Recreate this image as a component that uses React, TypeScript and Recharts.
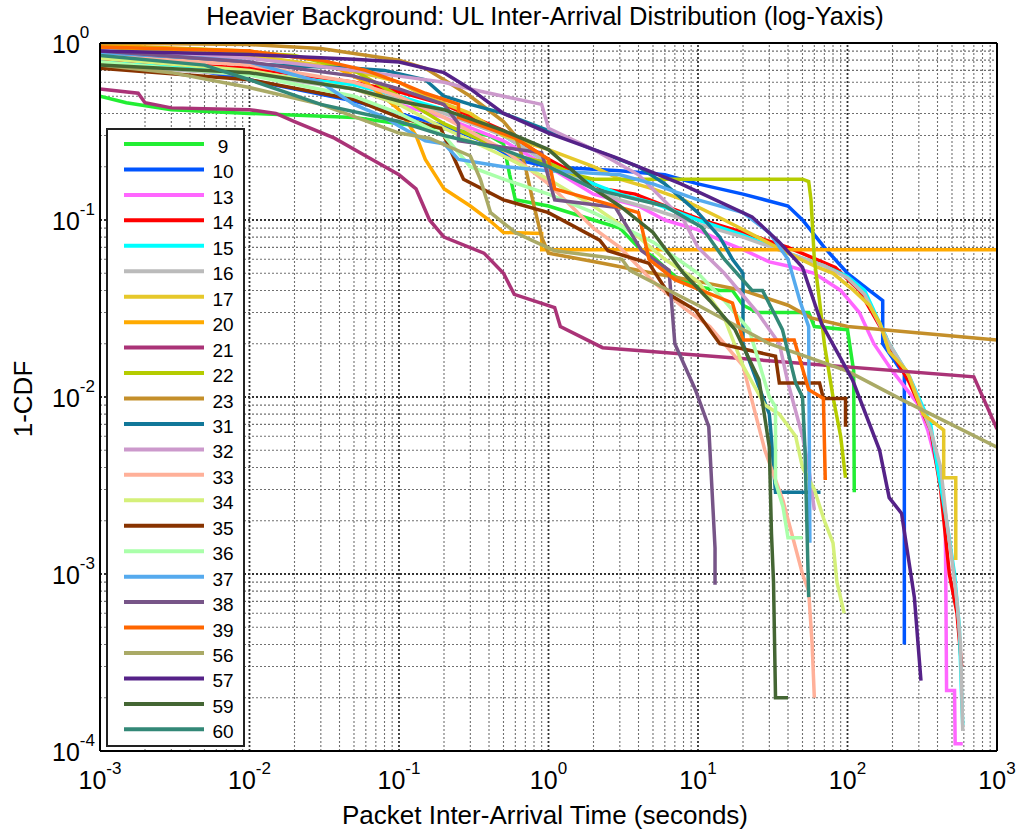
import { LineChart, Line, XAxis, YAxis, ReferenceLine } from "recharts";

// 1-CDF curves, [seconds, 1-CDF]
const s9 = [[0.001,0.5],[0.0015,0.46],[0.003,0.42],[0.01,0.4],[0.05,0.38],[0.1,0.35],[0.2,0.33],[0.4,0.3],[0.5,0.27],[0.55,0.18],[0.6,0.13],[1,0.12],[2,0.1],[3,0.09],[4,0.07],[5,0.062],[7,0.048],[10,0.042],[14,0.04],[17,0.04],[20,0.033],[25,0.03],[55,0.03],[60,0.025],[100,0.024],[110,0.014],[111,0.0029]];
const s10 = [[0.001,0.88],[0.01,0.62],[0.05,0.47],[0.1,0.4],[0.2,0.34],[0.4,0.27],[0.6,0.22],[1,0.2],[3,0.19],[6,0.18],[10,0.16],[20,0.14],[40,0.12],[50,0.1],[70,0.07],[100,0.05],[140,0.04],[172,0.035],[172,0.02],[230,0.014],[240,0.014],[240,0.0004]];
const s13 = [[0.001,0.85],[0.01,0.7],[0.05,0.55],[0.1,0.45],[0.2,0.38],[0.5,0.28],[1,0.2],[2,0.14],[4,0.12],[6,0.1],[10,0.088],[15,0.075],[20,0.068],[30,0.058],[40,0.055],[60,0.05],[90,0.04],[120,0.03],[150,0.02],[200,0.014],[300,0.009],[344,0.0065],[400,0.004],[450,0.0022],[455,0.0008],[460,0.00022],[520,0.00022],[525,0.00011],[590,0.00011]];
const s14 = [[0.001,0.8],[0.01,0.72],[0.05,0.6],[0.1,0.53],[0.2,0.45],[0.5,0.32],[1,0.22],[2.3,0.15],[3.8,0.14],[6,0.12],[10.6,0.1],[20,0.085],[40,0.07],[83,0.054],[120,0.04],[180,0.022],[190,0.019],[260,0.012],[360,0.0065],[420,0.003],[480,0.001],[540,0.0006],[580,0.0003]];
const s15 = [[0.001,0.78],[0.01,0.68],[0.05,0.58],[0.1,0.5],[0.2,0.42],[0.5,0.3],[1,0.21],[2,0.16],[3,0.14],[5,0.125],[10,0.1],[20,0.082],[40,0.065],[70,0.055],[100,0.048],[130,0.04],[190,0.02],[260,0.013],[360,0.007],[400,0.004],[460,0.002],[520,0.001],[560,0.0005],[580,0.0002],[590,0.00014]];
const s16 = [[0.001,0.75],[0.01,0.66],[0.05,0.55],[0.1,0.48],[0.2,0.4],[0.5,0.3],[1,0.21],[2,0.15],[3,0.13],[5,0.115],[10,0.095],[20,0.08],[40,0.065],[70,0.055],[100,0.047],[130,0.038],[190,0.02],[260,0.013],[360,0.0065],[420,0.004],[460,0.002],[500,0.0012],[540,0.0007],[570,0.0004],[590,0.00013]];
const s17 = [[0.001,0.95],[0.01,0.85],[0.03,0.75],[0.07,0.65],[0.1,0.6],[0.15,0.5],[0.3,0.4],[0.5,0.3],[1,0.25],[2,0.2],[3,0.17],[5,0.15],[8,0.13],[15,0.1],[25,0.08],[40,0.065],[60,0.055],[80,0.05],[110,0.04],[140,0.033],[165,0.026],[190,0.018],[250,0.014],[320,0.008],[440,0.0065],[440,0.0035],[530,0.0035],[530,0.0012]];
const s20 = [[0.001,0.97],[0.01,0.9],[0.03,0.8],[0.06,0.6],[0.1,0.42],[0.13,0.3],[0.15,0.22],[0.2,0.15],[0.3,0.12],[0.4,0.1],[0.5,0.085],[0.9,0.084],[0.9,0.068],[1000,0.068]];
const s21 = [[0.001,0.55],[0.0018,0.52],[0.002,0.46],[0.003,0.43],[0.01,0.42],[0.015,0.4],[0.02,0.36],[0.037,0.29],[0.06,0.23],[0.1,0.18],[0.13,0.15],[0.16,0.1],[0.2,0.08],[0.37,0.065],[0.5,0.05],[0.59,0.038],[1.1,0.032],[1.2,0.025],[2.3,0.019],[700,0.013],[1000,0.0066]];
const s22 = [[0.001,0.95],[0.005,0.92],[0.02,0.85],[0.05,0.7],[0.1,0.5],[0.2,0.35],[0.4,0.27],[0.6,0.23],[1,0.21],[1.5,0.18],[2,0.17],[50,0.17],[55,0.165],[57,0.13],[60,0.06],[65,0.035],[70,0.02],[80,0.01],[90,0.006],[97,0.0035]];
const s23 = [[0.001,1.0],[0.01,0.98],[0.03,0.93],[0.1,0.8],[0.15,0.72],[0.2,0.62],[0.3,0.5],[0.5,0.36],[0.6,0.3],[0.7,0.2],[0.8,0.12],[0.9,0.08],[1,0.065],[2.3,0.057],[5,0.05],[10,0.045],[20,0.04],[40,0.033],[57,0.028],[100,0.025],[1000,0.021]];
const s31 = [[0.001,0.85],[0.005,0.8],[0.01,0.76],[0.05,0.72],[0.08,0.7],[0.15,0.62],[0.2,0.5],[0.3,0.45],[0.5,0.4],[1,0.32],[2,0.25],[4,0.2],[6,0.16],[10,0.11],[14,0.08],[17,0.06],[20,0.05],[20,0.02],[25,0.012],[30,0.008],[31,0.0058],[33,0.0029],[66,0.0029]];
const s32 = [[0.001,0.9],[0.01,0.82],[0.05,0.7],[0.1,0.65],[0.2,0.6],[0.3,0.55],[0.5,0.5],[0.9,0.45],[1,0.33],[2,0.25],[4,0.18],[8,0.1],[10,0.07],[15,0.05],[25,0.03],[35,0.02],[40,0.012],[50,0.006],[55,0.004],[60,0.0023]];
const s33 = [[0.001,0.85],[0.01,0.75],[0.05,0.6],[0.1,0.5],[0.2,0.38],[0.5,0.25],[1,0.16],[2,0.09],[3,0.07],[5,0.045],[8,0.032],[12,0.025],[15,0.02],[20,0.015],[28,0.005],[37,0.0026],[50,0.001],[55,0.0008],[58,0.0004],[60,0.0002]];
const s34 = [[0.001,0.82],[0.01,0.7],[0.05,0.55],[0.1,0.45],[0.2,0.33],[0.5,0.23],[1,0.17],[2,0.12],[4,0.08],[6,0.06],[10,0.045],[15,0.028],[20,0.015],[28,0.009],[35,0.008],[45,0.006],[50,0.004],[60,0.003],[70,0.002],[80,0.0015],[85,0.0009],[95,0.0006]];
const s35 = [[0.001,0.72],[0.01,0.62],[0.05,0.48],[0.1,0.38],[0.19,0.33],[0.27,0.17],[0.5,0.13],[1,0.11],[2.2,0.077],[2.5,0.067],[4.7,0.057],[6.4,0.038],[9.6,0.031],[14,0.02],[33,0.017],[35,0.012],[65,0.012],[69,0.0098],[97,0.0098],[97,0.0068]];
const s36 = [[0.001,0.78],[0.01,0.66],[0.05,0.5],[0.1,0.4],[0.2,0.3],[0.3,0.2],[0.5,0.17],[1,0.14],[2,0.11],[5,0.075],[10,0.05],[15,0.035],[22,0.024],[30,0.01],[33,0.0088],[33,0.0033],[37,0.0024],[40,0.0016],[50,0.0016]];
const s37 = [[0.001,0.88],[0.005,0.82],[0.01,0.78],[0.03,0.6],[0.05,0.45],[0.08,0.38],[0.1,0.34],[0.15,0.28],[0.2,0.27],[0.25,0.22],[0.5,0.2],[1,0.19],[3,0.18],[5,0.16],[10,0.13],[20,0.11],[30,0.085],[40,0.06],[48,0.035],[55,0.025],[56,0.0015]];
const s38 = [[0.001,0.9],[0.01,0.78],[0.05,0.65],[0.1,0.55],[0.2,0.45],[0.25,0.35],[0.25,0.28],[0.9,0.24],[1.1,0.13],[2.8,0.118],[4.2,0.067],[6.4,0.052],[7,0.02],[9.6,0.011],[11.8,0.0068],[13,0.0014],[13,0.00087]];
const s39 = [[0.001,0.95],[0.01,0.9],[0.03,0.8],[0.06,0.7],[0.1,0.6],[0.15,0.52],[0.25,0.45],[0.25,0.38],[0.6,0.29],[1,0.22],[1.1,0.15],[4,0.11],[4.4,0.077],[4.7,0.06],[7,0.046],[17,0.034],[20,0.021],[44,0.021],[55,0.011],[69,0.0098],[71,0.0034]];
const s56 = [[0.001,0.75],[0.003,0.68],[0.01,0.56],[0.03,0.45],[0.1,0.31],[0.16,0.29],[0.3,0.23],[0.35,0.17],[0.41,0.11],[0.6,0.085],[0.77,0.077],[1.1,0.067],[3.1,0.06],[3.5,0.052],[5.7,0.042],[10,0.033],[30,0.02],[100,0.014],[234,0.0096],[1000,0.0052]];
const s57 = [[0.001,0.9],[0.01,0.86],[0.05,0.81],[0.1,0.78],[0.2,0.68],[0.3,0.55],[0.5,0.4],[1,0.31],[2.8,0.226],[7.7,0.16],[23,0.104],[35,0.075],[50,0.054],[67,0.026],[108,0.0125],[164,0.005],[190,0.0027],[230,0.0022],[280,0.00074],[310,0.00025]];
const s59 = [[0.001,0.75],[0.01,0.68],[0.05,0.55],[0.1,0.47],[0.2,0.42],[0.5,0.32],[1,0.25],[2,0.15],[3,0.12],[5,0.085],[8,0.05],[12,0.035],[17.7,0.024],[25.6,0.0125],[30,0.0052],[31,0.0017],[32,0.0009],[33,0.0002],[40,0.0002]];
const s60 = [[0.001,0.85],[0.005,0.75],[0.01,0.62],[0.03,0.45],[0.1,0.36],[0.2,0.3],[0.5,0.25],[1,0.2],[2,0.15],[4,0.13],[6,0.12],[10.6,0.091],[15,0.06],[23,0.04],[27,0.04],[36.7,0.024],[45,0.012],[50,0.01],[52,0.005],[55,0.00074]];

const seriesNames = ["9","10","13","14","15","16","17","20","21","22","23","31","32","33","34","35","36","37","38","39","56","57","59","60"];
const seriesColors = ["#22ee33","#0055ff","#ff66ff","#ff0000","#00ffff","#bbbbbb","#e6c82a","#ffaa00","#aa3377","#b5cc00","#c48f2a","#117799","#cc99cc","#ffb099","#d5f07a","#883300","#aaffaa","#55aaee","#775588","#ff6600","#aaaa66","#552288","#446633","#338877"];
const seriesPoints = [s9,s10,s13,s14,s15,s16,s17,s20,s21,s22,s23,s31,s32,s33,s34,s35,s36,s37,s38,s39,s56,s57,s59,s60];

const xTicks = [0.001, 0.01, 0.1, 1, 10, 100, 1000];
const yTicks = [0.0001, 0.001, 0.01, 0.1, 1];

const minorsOf = (majors: number[]) =>
  majors.slice(0, -1).flatMap((m) => [2, 3, 4, 5, 6, 7, 8, 9].map((k) => k * m));

const FONT = "'Liberation Sans', Arial, sans-serif";

const XTick = ({ x, y, payload }: any) => {
  const e = Math.round(Math.log10(payload.value));
  return (
    <text x={x} y={y + 38} textAnchor="middle" fontSize={25} fill="#000" fontFamily={FONT}>
      <tspan>10</tspan>
      <tspan dy={-15} fontSize={17}>{e}</tspan>
    </text>
  );
};

const YTick = ({ x, y, payload }: any) => {
  const e = Math.round(Math.log10(payload.value));
  return (
    <text x={x - 48} y={y + 10} textAnchor="start" fontSize={25} fill="#000" fontFamily={FONT}>
      <tspan>10</tspan>
      <tspan dy={-15} fontSize={17}>{e}</tspan>
    </text>
  );
};

export default function App() {
  const legendTop = 144;
  const legendStep = 25.45;

  return (
    <div style={{ position: "absolute", left: 0, top: 0, width: 1021, height: 834, background: "#fff" }}>
      <LineChart width={1021} height={834} margin={{ top: 43, right: 24, left: 10, bottom: 23 }}>
        <XAxis
          dataKey="x"
          type="number"
          scale="log"
          domain={[0.001, 1000]}
          ticks={xTicks}
          allowDataOverflow
          height={60}
          tickSize={0}
          tickMargin={0}
          tickLine={false}
          tick={<XTick />}
          axisLine={{ stroke: "#000", strokeWidth: 2 }}
        />
        <YAxis
          type="number"
          scale="log"
          domain={[0.0001, 1]}
          ticks={yTicks}
          allowDataOverflow
          width={90}
          tickSize={0}
          tickMargin={0}
          tickLine={false}
          tick={<YTick />}
          axisLine={{ stroke: "#000", strokeWidth: 2 }}
        />

        {minorsOf(xTicks).map((v) => (
          <ReferenceLine key={"xm" + v} x={v} stroke="#707070" strokeWidth={1.1} strokeDasharray="2 2" />
        ))}
        {minorsOf(yTicks).map((v) => (
          <ReferenceLine key={"ym" + v} y={v} stroke="#707070" strokeWidth={1.1} strokeDasharray="2 2" />
        ))}
        {xTicks.slice(1, -1).map((v) => (
          <ReferenceLine key={"xM" + v} x={v} stroke="#333" strokeWidth={1.8} strokeDasharray="2 2" />
        ))}
        {yTicks.slice(1, -1).map((v) => (
          <ReferenceLine key={"yM" + v} y={v} stroke="#333" strokeWidth={1.8} strokeDasharray="2 2" />
        ))}

        {seriesPoints.map((pts, i) => (
          <Line
            key={seriesNames[i]}
            data={pts.map(([x, y]) => ({ x, y }))}
            dataKey="y"
            type="linear"
            stroke={seriesColors[i]}
            strokeWidth={3.5}
            dot={false}
            isAnimationActive={false}
          />
        ))}

        <ReferenceLine x={1000} stroke="#000" strokeWidth={2} />
        <ReferenceLine y={1} stroke="#000" strokeWidth={2} />
      </LineChart>

      <svg width={1021} height={834} style={{ position: "absolute", left: 0, top: 0, pointerEvents: "none" }}>
        <text x={545} y={25} textAnchor="middle" fontSize={25.5} fontFamily={FONT} fill="#000">
          Heavier Background: UL Inter-Arrival Distribution (log-Yaxis)
        </text>
        <text x={545} y={824} textAnchor="middle" fontSize={26} fontFamily={FONT} fill="#000">
          Packet Inter-Arrival Time (seconds)
        </text>
        <text transform="translate(32,399) rotate(-90)" textAnchor="middle" fontSize={26} fontFamily={FONT} fill="#000">
          1-CDF
        </text>

        <rect x={107} y={129} width={137} height={617} fill="#fff" stroke="#222" strokeWidth={2} />
        {seriesNames.map((n, i) => {
          const ly = legendTop + i * legendStep;
          return (
            <g key={"lg" + n}>
              <line x1={124} x2={204} y1={ly} y2={ly} stroke={seriesColors[i]} strokeWidth={4} />
              <text x={223} y={ly + 9} textAnchor="middle" fontSize={19} fontFamily={FONT} fill="#000">
                {n}
              </text>
            </g>
          );
        })}
      </svg>
    </div>
  );
}
